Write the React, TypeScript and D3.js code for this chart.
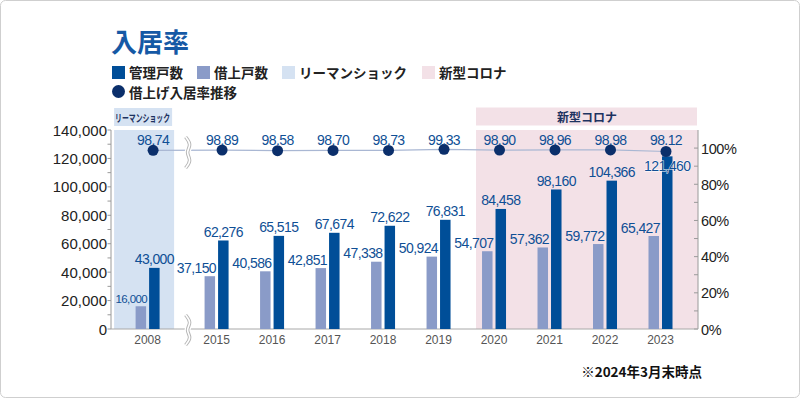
import { useEffect, useRef } from "react";
import * as d3 from "d3";

const years = ["2008", "2015", "2016", "2017", "2018", "2019", "2020", "2021", "2022", "2023"];
const kanriKosu = [43000, 62276, 65515, 67674, 72622, 76831, 84458, 98160, 104366, 121460];
const kariageKosu = [16000, 37150, 40586, 42851, 47338, 50924, 54707, 57362, 59772, 65427];
const nyukyoRate = [98.74, 98.89, 98.58, 98.7, 98.73, 99.33, 98.9, 98.96, 98.98, 98.12];
const leftTicks = [0, 20000, 40000, 60000, 80000, 100000, 120000, 140000];
const rightTicks = [0, 20, 40, 60, 80, 100];

const C_DARK = "#004e98";
const C_LIGHT = "#8a9bc8";
const C_LEHMAN = "#d5e2f2";
const C_CORONA = "#f3e1e7";
const C_DOT = "#0b2f6b";
const C_LABEL = "#0f4f95";
const NUM_FONT = "'Liberation Sans', Arial, sans-serif";
const JP_FONT = "'Noto Sans CJK JP', sans-serif";

export default function App() {
    const svgRef = useRef<SVGSVGElement>(null);
    const width = 801;
    const height = 399;

    useEffect(() => {
        const svg = d3.select(svgRef.current);
        svg.selectAll("*").remove();

        const plotLeft = 111, plotRight = 698, plotTop = 130, plotBottom = 329;

        // 2008 sits apart from the rest (axis break)
        const breakGap = 0.243;
        const slot = years.map((_, i) => (i === 0 ? 0 : i + breakGap));
        const x = d3.scaleLinear().domain([0, years.length - 1 + breakGap]).range([147.6, 660.5]);
        const yL = d3.scaleLinear().domain([0, 140000]).range([plotBottom, plotTop]);
        const yR = d3.scaleLinear().domain([0, 110]).range([plotBottom, plotTop]);

        const barW = 10.5, innerGap = 3;

        // card
        svg.append("rect")
            .attr("x", 0.5).attr("y", 0.5)
            .attr("width", width - 2).attr("height", height - 2)
            .attr("rx", 5)
            .attr("fill", "#fff").attr("stroke", "#cfcfcf");

        // title
        svg.append("text")
            .attr("x", 111).attr("y", 52)
            .style("font-family", JP_FONT).style("font-weight", "bold").style("font-size", "26px")
            .attr("fill", "#1559a5")
            .text("入居率");

        // legend
        const legendItems = [
            { label: "管理戸数", color: C_DARK, x: 112 },
            { label: "借上戸数", color: C_LIGHT, x: 197 },
            { label: "リーマンショック", color: C_LEHMAN, x: 282 },
            { label: "新型コロナ", color: C_CORONA, x: 422 },
        ];
        const lg = svg.append("g");
        legendItems.forEach((it) => {
            lg.append("rect").attr("x", it.x).attr("y", 66).attr("width", 13).attr("height", 13).attr("fill", it.color);
            lg.append("text").attr("x", it.x + 17).attr("y", 78)
                .style("font-family", JP_FONT).style("font-weight", "bold").style("font-size", "13.5px")
                .attr("fill", "#222").text(it.label);
        });
        lg.append("circle").attr("cx", 118.5).attr("cy", 91.5).attr("r", 6.5).attr("fill", C_DOT);
        lg.append("text").attr("x", 129).attr("y", 98)
            .style("font-family", JP_FONT).style("font-weight", "bold").style("font-size", "13.5px")
            .attr("fill", "#222").text("借上げ入居率推移");

        // shaded periods
        const lehmanX0 = x(slot[0]) - 33.5, lehmanX1 = x(slot[0]) + 26.5;
        const coronaX0 = x(slot[6]) - 18;
        svg.append("rect").attr("x", lehmanX0).attr("y", plotTop)
            .attr("width", lehmanX1 - lehmanX0).attr("height", plotBottom - plotTop).attr("fill", C_LEHMAN);
        svg.append("rect").attr("x", lehmanX0).attr("y", 108)
            .attr("width", lehmanX1 - lehmanX0 - 2).attr("height", 18).attr("fill", C_LEHMAN);
        svg.append("text").attr("x", lehmanX0 + 1).attr("y", 121.5)
            .attr("textLength", 55).attr("lengthAdjust", "spacingAndGlyphs")
            .style("font-family", JP_FONT).style("font-weight", "bold").style("font-size", "10.5px")
            .attr("fill", "#1d3260").text("リーマンショック");

        svg.append("rect").attr("x", coronaX0).attr("y", plotTop)
            .attr("width", plotRight - coronaX0).attr("height", plotBottom - plotTop).attr("fill", C_CORONA);
        svg.append("rect").attr("x", coronaX0).attr("y", 107.5)
            .attr("width", plotRight - coronaX0 - 1).attr("height", 18).attr("fill", C_CORONA);
        svg.append("text").attr("x", (coronaX0 + plotRight) / 2).attr("y", 121.5)
            .attr("text-anchor", "middle")
            .style("font-family", JP_FONT).style("font-weight", "bold").style("font-size", "12px")
            .attr("fill", "#1d3260").text("新型コロナ");

        // axes
        const axisColor = "#9a9a9a";
        const minorL = d3.range(10000, 140000, 20000);
        const minorR = d3.range(10, 110, 20);
        const leftAxis = svg.append("g");
        leftAxis.append("line").attr("x1", plotLeft).attr("x2", plotLeft).attr("y1", plotTop).attr("y2", plotBottom)
            .attr("stroke", axisColor);
        leftAxis.selectAll("line.tick").data([...leftTicks, ...minorL]).enter().append("line")
            .attr("class", "tick")
            .attr("x1", plotLeft - 3.5).attr("x2", plotLeft)
            .attr("y1", (d) => yL(d)).attr("y2", (d) => yL(d)).attr("stroke", axisColor);
        leftAxis.selectAll("text").data(leftTicks).enter().append("text")
            .attr("x", 107).attr("y", (d) => yL(d) + 5.5)
            .attr("text-anchor", "end")
            .style("font-family", NUM_FONT).style("font-size", "15px").attr("fill", "#222")
            .text((d) => d3.format(",")(d));

        const rightAxis = svg.append("g");
        rightAxis.append("line").attr("x1", plotRight).attr("x2", plotRight).attr("y1", plotTop).attr("y2", plotBottom)
            .attr("stroke", axisColor);
        rightAxis.selectAll("line.tick").data([...rightTicks, ...minorR]).enter().append("line")
            .attr("class", "tick")
            .attr("x1", plotRight - 4).attr("x2", plotRight)
            .attr("y1", (d) => yR(d)).attr("y2", (d) => yR(d)).attr("stroke", axisColor);
        rightAxis.selectAll("text").data(rightTicks).enter().append("text")
            .attr("x", 701).attr("y", (d) => yR(d) + 5.5)
            .style("font-family", NUM_FONT).style("font-size", "14.5px").attr("fill", "#222")
            .attr("letter-spacing", "-0.4px")
            .text((d) => d + "%");

        svg.append("line").attr("x1", plotLeft).attr("x2", plotRight).attr("y1", plotBottom).attr("y2", plotBottom)
            .attr("stroke", "#a8a8a8");

        svg.selectAll("text.xlab").data(years).enter().append("text")
            .attr("class", "xlab")
            .attr("x", (_, i) => x(slot[i])).attr("y", 344)
            .attr("text-anchor", "middle")
            .style("font-family", NUM_FONT).style("font-size", "12px").attr("fill", "#555")
            .text((d) => d);

        // bars
        const bars = svg.append("g");
        bars.selectAll("rect.light").data(kariageKosu).enter().append("rect")
            .attr("class", "light")
            .attr("x", (_, i) => x(slot[i]) - innerGap / 2 - barW)
            .attr("y", (d) => yL(d)).attr("width", barW).attr("height", (d) => plotBottom - yL(d))
            .attr("fill", C_LIGHT);
        bars.selectAll("rect.dark").data(kanriKosu).enter().append("rect")
            .attr("class", "dark")
            .attr("x", (_, i) => x(slot[i]) + innerGap / 2)
            .attr("y", (d) => yL(d)).attr("width", barW).attr("height", (d) => plotBottom - yL(d))
            .attr("fill", C_DARK);

        // line + dots
        const dotX = (i: number) => x(slot[i]) + 5.5;
        const line = d3.line<number>().x((_, i) => dotX(i)).y((d) => yR(d));
        svg.append("path").datum(nyukyoRate).attr("d", line)
            .attr("fill", "none").attr("stroke", "#a9b7d3").attr("stroke-width", 1.2);

        // axis break marks
        const breakX = x(slot[0]) + 41;
        const zig = (y0: number, y1: number) => {
            const n = 4;
            const pts: [number, number][] = d3.range(n + 1).map((k) => [
                breakX + (k % 2 === 0 ? -3 : 3),
                y0 + ((y1 - y0) * k) / n,
            ]);
            return d3.line().curve(d3.curveBasis)(pts) as string;
        };
        [[137, 168], [315, 345]].forEach(([a, b]) => {
            svg.append("path").attr("d", zig(a, b)).attr("fill", "none").attr("stroke", "#fff").attr("stroke-width", 6);
            svg.append("path").attr("d", zig(a, b)).attr("fill", "none").attr("stroke", "#b5b5b5").attr("stroke-width", 3.5);
            svg.append("path").attr("d", zig(a, b)).attr("fill", "none").attr("stroke", "#fff").attr("stroke-width", 1.6);
        });

        svg.selectAll("circle.dot").data(nyukyoRate).enter().append("circle")
            .attr("class", "dot")
            .attr("cx", (_, i) => dotX(i)).attr("cy", (d) => yR(d)).attr("r", 5.5)
            .attr("fill", C_DOT);

        svg.selectAll("text.rate").data(nyukyoRate).enter().append("text")
            .attr("class", "rate")
            .attr("x", (_, i) => dotX(i)).attr("y", 145)
            .attr("text-anchor", "middle")
            .style("font-family", NUM_FONT).style("font-size", "14px").attr("letter-spacing", "-0.6px")
            .attr("fill", C_LABEL)
            .text((d) => d.toFixed(2));

        // value labels
        svg.selectAll("text.lv").data(kariageKosu).enter().append("text")
            .attr("class", "lv")
            .attr("x", (_, i) => x(slot[i]) - innerGap / 2 + 1)
            .attr("y", (d) => yL(d) - 3.5)
            .attr("text-anchor", "end")
            .style("font-family", NUM_FONT)
            .style("font-size", (_, i) => (i === 0 ? "11.5px" : "14px"))
            .attr("letter-spacing", "-0.6px")
            .attr("fill", C_LABEL)
            .text((d) => d3.format(",")(d));

        svg.selectAll("text.dv").data(kanriKosu).enter().append("text")
            .attr("class", "dv")
            .attr("x", (_, i) => x(slot[i]) + innerGap / 2 + barW / 2)
            .attr("y", (d, i) => {
                const yy = yL(d) - 3.5;
                const dy = yR(nyukyoRate[i]);
                return yy < dy + 12 ? dy + 20 : yy;
            })
            .attr("text-anchor", "middle")
            .style("font-family", NUM_FONT).style("font-size", "14px").attr("letter-spacing", "-0.6px")
            .attr("fill", C_LABEL)
            .attr("stroke", (d, i) => (yL(d) - 3.5 < yR(nyukyoRate[i]) + 12 ? "#fff" : "none"))
            .attr("stroke-width", 0.8)
            .attr("paint-order", "stroke")
            .text((d) => d3.format(",")(d));

        // footnote
        svg.append("text").attr("x", 702).attr("y", 377).attr("text-anchor", "end")
            .style("font-family", JP_FONT).style("font-weight", "bold").style("font-size", "13.5px")
            .attr("fill", "#111").text("※2024年3月末時点");
    }, []);

    return (
        <svg
            ref={svgRef}
            width={width}
            height={height}
            style={{ position: "absolute", left: 0, top: 0, display: "block" }}
        />
    );
}
